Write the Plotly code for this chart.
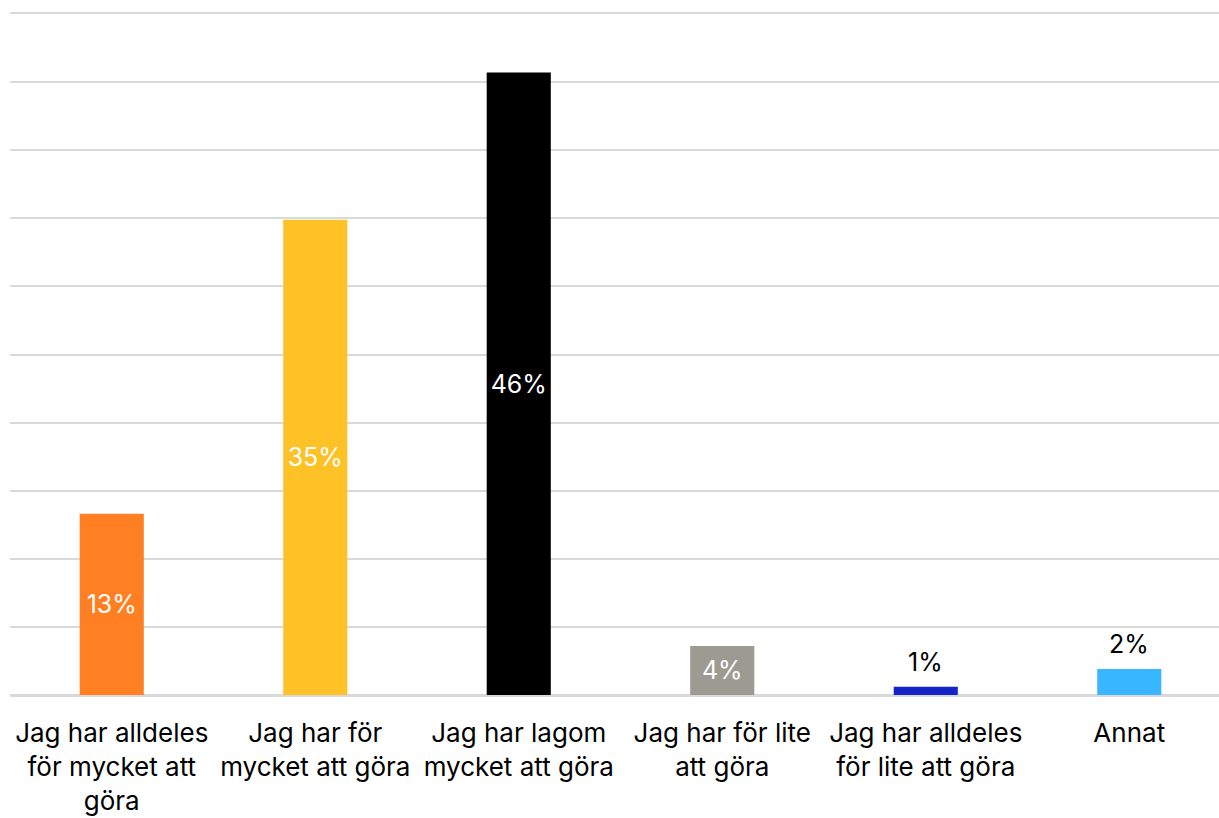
import plotly.graph_objects as go

categories = [
    "Jag har alldeles<br>för mycket att<br>göra",
    "Jag har för<br>mycket att göra",
    "Jag har lagom<br>mycket att göra",
    "Jag har för lite<br>att göra",
    "Jag har alldeles<br>för lite att göra",
    "Annat",
]
values = [13.3, 34.9, 45.7, 3.6, 0.6, 1.9]
colors = ["#FF7F22", "#FEC126", "#000000", "#9C9B92", "#1424C8", "#38B6FF"]
label_inside = [True, True, True, True, False, False]

labels = [f"{round(v)}%" for v in values]
FONT = "Inter"

fig = go.Figure()
fig.add_trace(go.Bar(
    x=categories,
    y=values,
    width=0.315,
    marker=dict(color=colors, line=dict(width=0)),
    text=[t if ins else "" for t, ins in zip(labels, label_inside)],
    textposition="inside",
    insidetextanchor="middle",
    textangle=0,
    textfont=dict(family=FONT, size=25, color="white"),
    cliponaxis=False,
    hoverinfo="skip",
))

for c, v, t, ins in zip(categories, values, labels, label_inside):
    if not ins:
        fig.add_annotation(x=c, y=v, text=t, showarrow=False, yanchor="bottom",
                           yshift=8, font=dict(family=FONT, size=25, color="black"))

fig.update_layout(
    width=1219,
    height=818,
    margin=dict(l=10, r=0, t=14, b=123),
    paper_bgcolor="white",
    plot_bgcolor="white",
    showlegend=False,
    font=dict(family=FONT, size=26, color="black"),
)
fig.update_xaxes(
    range=[-0.5, 5.441],
    automargin=False,
    showgrid=False,
    showline=True,
    mirror=True,
    linecolor="#D9D9D9",
    linewidth=2,
    ticks="",
    tickfont=dict(family=FONT, size=26, color="black"),
    ticklabelstandoff=14,
)
fig.update_yaxes(
    range=[0, 50],
    automargin=False,
    dtick=5,
    showgrid=True,
    gridcolor="#D9D9D9",
    gridwidth=2,
    showticklabels=False,
    zeroline=True,
    zerolinecolor="#D9D9D9",
    zerolinewidth=2,
    showline=False,
)

fig.write_html("out.html")
